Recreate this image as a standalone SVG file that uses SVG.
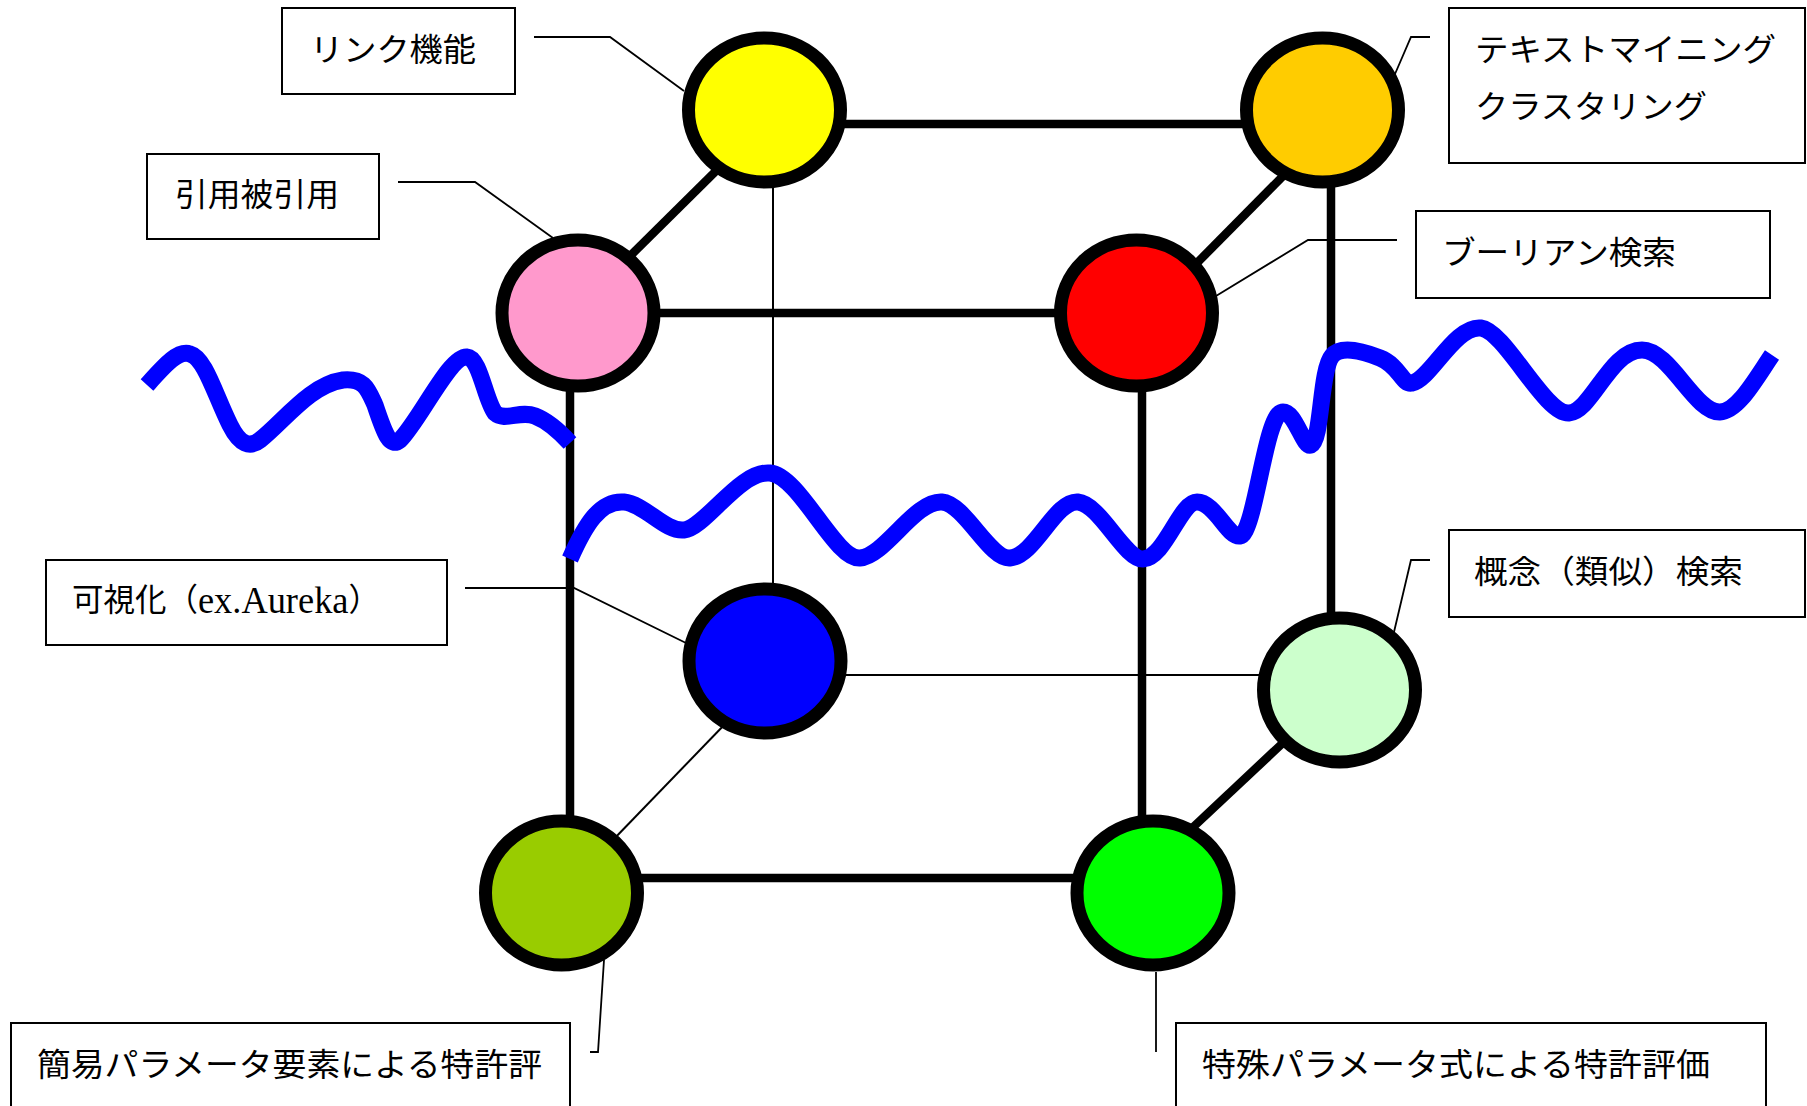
<svg xmlns="http://www.w3.org/2000/svg" width="1807" height="1106" viewBox="0 0 1807 1106">
<style>
.thick{stroke:#000;stroke-width:8.5;fill:none}
.thin{stroke:#000;stroke-width:2;fill:none}
.lead{stroke:#000;stroke-width:1.8;fill:none}
.wave{stroke:#0000FF;stroke-width:17;fill:none;stroke-linecap:butt;stroke-linejoin:round}
.node{stroke:#000;stroke-width:13}
.box{fill:#fff;stroke:#000;stroke-width:2}
.lbl{font-family:"Liberation Serif","Noto Sans CJK JP",serif;font-size:32px;fill:#000;dominant-baseline:central}
.lat{font-size:37px}
</style>
<rect width="1807" height="1106" fill="#fff"/>
<g id="connectors">
  <line class="thick" x1="764" y1="124" x2="1322" y2="124"/>
  <line class="thick" x1="722" y1="165" x2="624" y2="262"/>
  <line class="thick" x1="578" y1="313" x2="1136" y2="313"/>
  <line class="thick" x1="570" y1="313" x2="570" y2="893"/>
  <line class="thick" x1="1286" y1="173" x2="1191" y2="269"/>
  <line class="thick" x1="1331" y1="110" x2="1331" y2="690"/>
  <line class="thick" x1="1142" y1="313" x2="1142" y2="893"/>
  <line class="thick" x1="561" y1="878" x2="1153" y2="878"/>
  <line class="thick" x1="1286" y1="740" x2="1189" y2="831"/>
  <line class="thin" x1="773" y1="110" x2="773" y2="661"/>
  <line class="thin" x1="765" y1="675" x2="1339" y2="675"/>
  <line class="thin" x1="727" y1="722" x2="612" y2="841"/>
  <polyline class="lead" points="534,37 610,37 684,91"/>
  <polyline class="lead" points="398,182 475,182 553,238"/>
  <polyline class="lead" points="1430,37 1411,37 1395,74"/>
  <polyline class="lead" points="1397,240 1308,240 1216,296"/>
  <polyline class="lead" points="465,588 574,588 686,643"/>
  <polyline class="lead" points="1430,560 1411,560 1394,632"/>
  <polyline class="lead" points="590,1052 598,1052 604,960"/>
  <polyline class="lead" points="1156,972 1156,1052"/>
</g>
<g id="node-yellow"><ellipse class="node" cx="764.5" cy="110" rx="76" ry="72" fill="#FFFF00"/></g>
<g id="node-orange"><ellipse class="node" cx="1322.5" cy="110" rx="76" ry="72" fill="#FFCC00"/></g>
<g id="node-pink"><ellipse class="node" cx="578" cy="313" rx="76" ry="73" fill="#FF99CC"/></g>
<g id="node-red"><ellipse class="node" cx="1136.5" cy="313" rx="76" ry="73" fill="#FF0000"/></g>
<g id="node-blue"><ellipse class="node" cx="765" cy="661" rx="76" ry="72" fill="#0000FF"/></g>
<g id="node-lightgreen"><ellipse class="node" cx="1339.5" cy="690" rx="76" ry="72" fill="#CCFFCC"/></g>
<g id="node-olive"><ellipse class="node" cx="561.5" cy="893" rx="76" ry="72" fill="#99CC00"/></g>
<g id="node-green"><ellipse class="node" cx="1153" cy="893" rx="76" ry="72" fill="#00FF00"/></g>
<g id="waves">
  <path class="wave" d="M147,385 C165,365 178,350 190,354 C205,358 215,395 230,425 C240,445 250,448 260,440 C285,420 310,385 343,380 C365,378 368,390 375,405 C385,435 390,448 400,440 C420,420 450,355 467,357 C480,358 485,400 495,413 C505,422 520,410 535,416 C548,421 560,432 570,443"/>
  <path class="wave" d="M570,559 C585,525 600,500 624,502 C645,504 665,532 684,530 C705,528 740,470 770,473 C800,476 835,560 860,558 C885,556 915,500 942,502 C965,504 990,560 1010,558 C1035,556 1055,500 1078,502 C1100,504 1125,560 1143,559 C1165,558 1180,502 1197,502 C1215,502 1228,538 1240,536 C1255,534 1265,415 1282,412 C1295,410 1303,448 1311,445 C1322,440 1320,370 1332,356 C1340,346 1360,350 1380,358 C1400,366 1402,385 1412,383 C1430,380 1455,325 1481,328 C1505,331 1545,415 1569,413 C1592,411 1610,350 1642,350 C1670,350 1695,413 1720,412 C1738,411 1755,380 1772,355"/>
</g>
<g id="label-link"><rect class="box" x="282" y="8" width="233" height="86"/><text class="lbl" x="310" y="50" textLength="166" lengthAdjust="spacingAndGlyphs">リンク機能</text></g>
<g id="label-citation"><rect class="box" x="147" y="154" width="232" height="85"/><text class="lbl" x="175" y="195" textLength="164" lengthAdjust="spacingAndGlyphs">引用被引用</text></g>
<g id="label-textmining"><rect class="box" x="1449" y="8" width="356" height="155"/><text class="lbl" x="1475" y="50" textLength="301" lengthAdjust="spacingAndGlyphs">テキストマイニング</text><text class="lbl" x="1475" y="107" textLength="232" lengthAdjust="spacingAndGlyphs">クラスタリング</text></g>
<g id="label-boolean"><rect class="box" x="1416" y="211" width="354" height="87"/><text class="lbl" x="1442" y="253" textLength="234" lengthAdjust="spacingAndGlyphs">ブーリアン検索</text></g>
<g id="label-visual"><rect class="box" x="46" y="560" width="401" height="85"/><text class="lbl" x="72" y="600" textLength="308" lengthAdjust="spacingAndGlyphs">可視化（<tspan class="lat">ex.Aureka</tspan>）</text></g>
<g id="label-concept"><rect class="box" x="1449" y="530" width="356" height="87"/><text class="lbl" x="1474" y="572" textLength="269" lengthAdjust="spacingAndGlyphs">概念（類似）検索</text></g>
<g id="label-simple"><rect class="box" x="11" y="1023" width="559" height="110"/><text class="lbl" x="37" y="1065" textLength="505" lengthAdjust="spacingAndGlyphs">簡易パラメータ要素による特許評</text></g>
<g id="label-special"><rect class="box" x="1176" y="1023" width="590" height="110"/><text class="lbl" x="1202" y="1065" textLength="508" lengthAdjust="spacingAndGlyphs">特殊パラメータ式による特許評価</text></g>
</svg>
